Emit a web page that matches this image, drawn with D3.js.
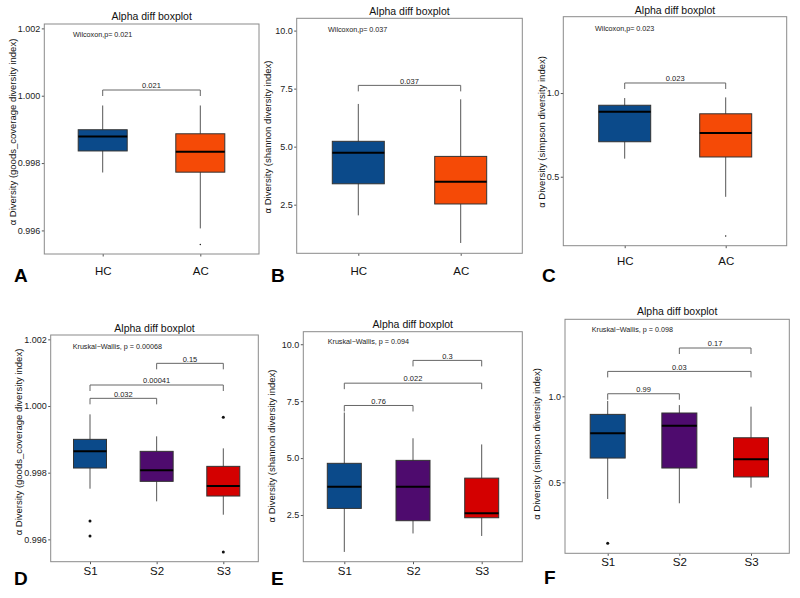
<!DOCTYPE html>
<html>
<head>
<meta charset="utf-8">
<script src="https://cdn.jsdelivr.net/npm/d3@7"></script>
<style>
  body { margin: 0; background: #fff; }
  svg { font-family: "Liberation Sans", Arial, sans-serif; }
</style>
</head>
<body>
<div id="chart"></div>
<script>
// groups
var topGroups = ["HC", "AC"];
var bottomGroups = ["S1", "S2", "S3"];

// box stats per group: [lower whisker, Q1, median, Q3, upper whisker]
var goodsTopStats = [[0.99772, 0.99836, 0.99879, 0.99899, 0.99971], [0.99606, 0.99773, 0.99834, 0.99887, 0.99971]];
var goodsTopOutliers = [[], [0.99558]];
var shannonTopStats = [[2.04, 3.40, 4.74, 5.23, 6.84], [0.85, 2.53, 3.49, 4.58, 7.04]];
var shannonTopOutliers = [[], []];
var simpsonTopStats = [[0.608, 0.709, 0.888, 0.927, 0.970], [0.380, 0.618, 0.761, 0.876, 0.974]];
var simpsonTopOutliers = [[], [0.146]];

var goodsBottomStats = [[0.99752, 0.99814, 0.99864, 0.99900, 0.99975], [0.99714, 0.99774, 0.99807, 0.99864, 0.99909], [0.99674, 0.99730, 0.99760, 0.99819, 0.99873]];
var goodsBottomOutliers = [[0.99655, 0.99610], [], [0.99966, 0.99562]];
var shannonBottomStats = [[0.88, 2.79, 3.74, 4.77, 7.00], [1.69, 2.25, 3.74, 4.90, 5.87], [1.58, 2.38, 2.58, 4.12, 5.60]];
var shannonBottomOutliers = [[], [], []];
var simpsonBottomStats = [[0.403, 0.641, 0.785, 0.895, 0.973], [0.378, 0.583, 0.829, 0.903, 0.949], [0.469, 0.531, 0.634, 0.759, 0.940]];
var simpsonBottomOutliers = [[0.145], [], []];

// significance brackets: [from, to, height, label]
var goodsTopBrackets = [["HC", "AC", 1.00017, "0.021"]];
var shannonTopBrackets = [["HC", "AC", 7.64, "0.037"]];
var simpsonTopBrackets = [["HC", "AC", 1.06, "0.023"]];
var goodsBottomBrackets = [["S1", "S2", 1.00023, "0.032"], ["S1", "S3", 1.00063, "0.00041"], ["S2", "S3", 1.00128, "0.15"]];
var shannonBottomBrackets = [["S1", "S2", 7.31, "0.76"], ["S1", "S3", 8.29, "0.022"], ["S2", "S3", 9.29, "0.3"]];
var simpsonBottomBrackets = [["S1", "S2", 1.015, "0.99"], ["S1", "S3", 1.145, "0.03"], ["S2", "S3", 1.281, "0.17"]];

// tick values
var goodsTicks = [0.996, 0.998, 1.000, 1.002];
var shannonTicks = [2.5, 5.0, 7.5, 10.0];
var simpsonTicks = [0.5, 1.0];

var topColors = ["#0b4a8a", "#f54a06"];
var bottomColors = ["#0b4a8a", "#4e0b6e", "#d40000"];

var panels = [
  {letter: "A", groups: topGroups, stats: goodsTopStats, outliers: goodsTopOutliers, brackets: goodsTopBrackets,
   ticks: goodsTicks, fmt: ".3f", domain: [0.99530, 1.00213], colors: topColors, dotR: 0.7,
   stat: "Wilcoxon,p= 0.021", ytitle: "α Diversity (goods_coverage diversity index)",
   frame: {l: 44.3, r: 259, t: 24, b: 254}, xs: [102.7, 200.3], boxW: 49,
   titleY: 20, statPos: [73, 36.5], letterPos: [14, 282], xlabY: 275, ytitlePos: [15.5, 132]},
  {letter: "B", groups: topGroups, stats: shannonTopStats, outliers: shannonTopOutliers, brackets: shannonTopBrackets,
   ticks: shannonTicks, fmt: ".1f", domain: [0.405, 10.53], colors: topColors, dotR: 0.7,
   stat: "Wilcoxon,p= 0.037", ytitle: "α Diversity (shannon diversity index)",
   frame: {l: 296.7, r: 522.3, t: 18.3, b: 253.3}, xs: [358.3, 460.7], boxW: 52,
   titleY: 14.5, statPos: [328, 31.5], letterPos: [271, 282], xlabY: 275, ytitlePos: [270.5, 137]},
  {letter: "C", groups: topGroups, stats: simpsonTopStats, outliers: simpsonTopOutliers, brackets: simpsonTopBrackets,
   ticks: simpsonTicks, fmt: ".1f", domain: [0.088, 1.456], colors: topColors, dotR: 0.7,
   stat: "Wilcoxon,p= 0.023", ytitle: "α Diversity (simpson diversity index)",
   frame: {l: 563.3, r: 786.7, t: 16.7, b: 245.7}, xs: [624.7, 725.7], boxW: 52,
   titleY: 14, statPos: [595, 30.5], letterPos: [542, 282], xlabY: 265, ytitlePos: [545, 132]},
  {letter: "D", groups: bottomGroups, stats: goodsBottomStats, outliers: goodsBottomOutliers, brackets: goodsBottomBrackets,
   ticks: goodsTicks, fmt: ".3f", domain: [0.99533, 1.00213], colors: bottomColors, dotR: 1.5,
   stat: "Kruskal−Wallis, p = 0.00068", ytitle: "α Diversity (goods_coverage diversity index)",
   frame: {l: 50.7, r: 258.3, t: 335, b: 561.7}, xs: [90, 223.3], boxW: 33,
   titleY: 332, statPos: [72.7, 349.2], letterPos: [14, 585], xlabY: 575, ytitlePos: [21.5, 442]},
  {letter: "E", groups: bottomGroups, stats: shannonBottomStats, outliers: shannonBottomOutliers, brackets: shannonBottomBrackets,
   ticks: shannonTicks, fmt: ".1f", domain: [0.45, 10.55], colors: bottomColors, dotR: 1.5,
   stat: "Kruskal−Wallis, p = 0.094", ytitle: "α Diversity (shannon diversity index)",
   frame: {l: 303.3, r: 522.3, t: 331.7, b: 561.7}, xs: [344.3, 481.7], boxW: 34,
   titleY: 328, statPos: [327.7, 344.2], letterPos: [271, 585], xlabY: 575, ytitlePos: [274.5, 446]},
  {letter: "F", groups: bottomGroups, stats: simpsonBottomStats, outliers: simpsonBottomOutliers, brackets: simpsonBottomBrackets,
   ticks: simpsonTicks, fmt: ".1f", domain: [0.087, 1.448], colors: bottomColors, dotR: 1.5,
   stat: "Kruskal−Wallis, p = 0.098", ytitle: "α Diversity (simpson diversity index)",
   frame: {l: 565, r: 789.3, t: 319.3, b: 553.3}, xs: [607.7, 751], boxW: 35,
   titleY: 315, statPos: [591.7, 331.8], letterPos: [544, 584], xlabY: 566, ytitlePos: [540, 444]}
];

var svg = d3.select("#chart")
  .append("svg")
  .attr("width", 800)
  .attr("height", 598);

panels.forEach(function(p) {
  var f = p.frame;
  var g = svg.append("g");

  var x = d3.scalePoint()
    .domain(p.groups)
    .range(p.xs);

  var y = d3.scaleLinear()
    .domain(p.domain)
    .range([f.b, f.t]);

  // title
  g.append("text")
    .attr("x", (f.l + f.r) / 2)
    .attr("y", p.titleY)
    .attr("text-anchor", "middle")
    .attr("font-size", 10.5)
    .attr("fill", "#111")
    .text("Alpha diff boxplot");

  // y axis
  var yAxis = d3.axisLeft(y)
    .tickValues(p.ticks)
    .tickFormat(d3.format(p.fmt))
    .tickSize(2.5)
    .tickPadding(1.5);
  var ya = g.append("g")
    .attr("transform", `translate(${f.l}, 0)`)
    .call(yAxis);
  ya.select(".domain").remove();
  ya.selectAll("line").attr("stroke", "#555");
  ya.selectAll("text").attr("font-size", 9).attr("fill", "#222").attr("font-family", "Liberation Sans, Arial, sans-serif");

  // x axis
  var xAxis = d3.axisBottom(x)
    .tickSize(2.5)
    .tickPadding(6);
  var xa = g.append("g")
    .attr("transform", `translate(0, ${f.b})`)
    .call(xAxis);
  xa.select(".domain").remove();
  xa.selectAll("line").attr("stroke", "#555");
  xa.selectAll("text")
    .attr("font-size", 11.5)
    .attr("fill", "#111")
    .attr("font-family", "Liberation Sans, Arial, sans-serif")
    .attr("dy", null)
    .attr("y", p.xlabY - f.b);

  // frame
  g.append("rect")
    .attr("x", f.l)
    .attr("y", f.t)
    .attr("width", f.r - f.l)
    .attr("height", f.b - f.t)
    .attr("fill", "none")
    .attr("stroke", "#8a8a8a")
    .attr("stroke-width", 1);

  // y title
  g.append("text")
    .attr("transform", `translate(${p.ytitlePos[0]}, ${p.ytitlePos[1]}) rotate(-90)`)
    .attr("text-anchor", "middle")
    .attr("font-size", 9.5)
    .attr("fill", "#111")
    .text(p.ytitle);

  // stat label
  g.append("text")
    .attr("x", p.statPos[0])
    .attr("y", p.statPos[1])
    .attr("font-size", 7.2)
    .attr("fill", "#222")
    .text(p.stat);

  // boxes
  var boxes = g.selectAll(".box")
    .data(p.stats)
    .enter()
    .append("g")
    .attr("class", "box");

  boxes.append("line")
    .attr("x1", (d, i) => x(p.groups[i]))
    .attr("x2", (d, i) => x(p.groups[i]))
    .attr("y1", d => y(d[0]))
    .attr("y2", d => y(d[4]))
    .attr("stroke", "#555")
    .attr("stroke-width", 1);

  boxes.append("rect")
    .attr("x", (d, i) => x(p.groups[i]) - p.boxW / 2)
    .attr("y", d => y(d[3]))
    .attr("width", p.boxW)
    .attr("height", d => y(d[1]) - y(d[3]))
    .attr("fill", (d, i) => p.colors[i])
    .attr("stroke", "#333")
    .attr("stroke-width", 1);

  boxes.append("line")
    .attr("x1", (d, i) => x(p.groups[i]) - p.boxW / 2)
    .attr("x2", (d, i) => x(p.groups[i]) + p.boxW / 2)
    .attr("y1", d => y(d[2]))
    .attr("y2", d => y(d[2]))
    .attr("stroke", "#000")
    .attr("stroke-width", 2);

  // outliers
  var pts = [];
  p.outliers.forEach(function(vals, i) {
    vals.forEach(function(v) { pts.push({grp: p.groups[i], v: v}); });
  });
  g.selectAll(".out")
    .data(pts)
    .enter()
    .append("circle")
    .attr("cx", d => x(d.grp))
    .attr("cy", d => y(d.v))
    .attr("r", p.dotR)
    .attr("fill", "#111");

  // brackets
  var br = g.selectAll(".bracket")
    .data(p.brackets)
    .enter()
    .append("g");

  br.append("path")
    .attr("d", d => `M${x(d[0])},${y(d[2]) + 6}V${y(d[2])}H${x(d[1])}V${y(d[2]) + 6}`)
    .attr("fill", "none")
    .attr("stroke", "#666")
    .attr("stroke-width", 1);

  br.append("text")
    .attr("x", d => (x(d[0]) + x(d[1])) / 2)
    .attr("y", d => y(d[2]) - 1.8)
    .attr("text-anchor", "middle")
    .attr("font-size", 7.5)
    .attr("fill", "#222")
    .text(d => d[3]);

  // panel letter
  g.append("text")
    .attr("x", p.letterPos[0])
    .attr("y", p.letterPos[1])
    .attr("font-size", 19)
    .attr("font-weight", "bold")
    .attr("fill", "#000")
    .text(p.letter);
});
</script>
</body>
</html>
